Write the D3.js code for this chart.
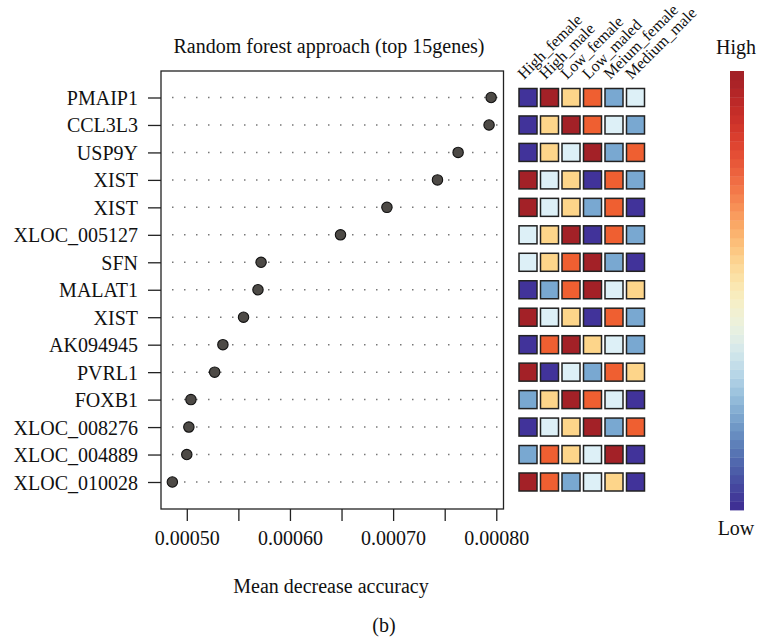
<!DOCTYPE html>
<html lang="en">
<head>
  <meta charset="UTF-8">
  <title>Random forest approach (top 15genes)</title>
  <script src="https://d3js.org/d3.v7.min.js"></script>
  <style>
    body { margin: 0; background: #fff; }
    svg { display: block; }
    text { font-family: "Liberation Serif", "Times New Roman", serif; fill: #111; }
  </style>
</head>
<body>
  <div id="chart"></div>
  <script>
    // genes, top to bottom
    const genes = ["PMAIP1", "CCL3L3", "USP9Y", "XIST", "XIST", "XLOC_005127", "SFN", "MALAT1",
                   "XIST", "AK094945", "PVRL1", "FOXB1", "XLOC_008276", "XLOC_004889", "XLOC_010028"];
    // mean decrease accuracy
    const importance = [0.000795, 0.000793, 0.000763, 0.000743, 0.000694, 0.000649, 0.000572, 0.000569,
                        0.000555, 0.000535, 0.000527, 0.000504, 0.000502, 0.000500, 0.000486];
    const groups = ["High_female", "High_male", "Low_female", "Low_maled", "Meium_female", "Medium_male"];
    // expression rank per group (1 = low, 6 = high)
    const ranks = [
      [1, 6, 4, 5, 2, 3],
      [1, 4, 6, 5, 3, 2],
      [1, 4, 3, 6, 2, 5],
      [6, 3, 4, 1, 5, 2],
      [6, 3, 4, 2, 5, 1],
      [3, 4, 6, 1, 5, 2],
      [3, 4, 5, 6, 2, 1],
      [1, 2, 5, 6, 3, 4],
      [6, 3, 4, 1, 5, 2],
      [1, 5, 6, 4, 3, 2],
      [6, 1, 3, 2, 5, 4],
      [2, 4, 6, 5, 3, 1],
      [1, 3, 4, 6, 2, 5],
      [2, 5, 4, 3, 6, 1],
      [6, 5, 2, 3, 4, 1]
    ];
    const xTicks = [0.00050, 0.00055, 0.00060, 0.00065, 0.00070, 0.00075, 0.00080];
    const xLabels = [0.00050, 0.00060, 0.00070, 0.00080];

    const width = 761, height = 641;
    const box = { left: 161, right: 503.5, top: 71, bottom: 509 };

    const svg = d3.select("#chart").append("svg")
      .attr("width", width)
      .attr("height", height);

    const x = d3.scaleLinear().domain([0.000475, 0.000807]).range([box.left, box.right]);
    const y = d3.scalePoint().domain(d3.range(genes.length)).range([97.5, 482]);

    // cell colours, low -> high
    const cellColor = d3.scaleOrdinal()
      .domain([1, 2, 3, 4, 5, 6])
      .range(["#41339a", "#79a8d1", "#ddf0f7", "#fdd58a", "#ef5f31", "#a32127"]);
    // legend ramp, low -> high
    const ramp = d3.interpolateRgbBasis(["#3f3094", "#4f74b2", "#93c1dd", "#e4f3f7", "#fdf3bb",
                                         "#fdbb6c", "#f46d43", "#d73027", "#a32127"]);

    // title
    svg.append("text")
      .attr("x", 329).attr("y", 53)
      .attr("text-anchor", "middle")
      .style("font-size", "20px")
      .text("Random forest approach (top 15genes)");

    // dotted guide lines
    svg.append("g").selectAll("line")
      .data(genes)
      .join("line")
      .attr("x1", box.left + 11).attr("x2", box.right - 4)
      .attr("y1", (d, i) => y(i)).attr("y2", (d, i) => y(i))
      .attr("stroke", "#777")
      .attr("stroke-width", 1.5)
      .attr("stroke-dasharray", "1.5 10.5");

    // box
    svg.append("rect")
      .attr("x", box.left).attr("y", box.top)
      .attr("width", box.right - box.left).attr("height", box.bottom - box.top)
      .attr("fill", "none").attr("stroke", "#222").attr("stroke-width", 1.3);

    // x axis
    const xAxis = svg.append("g")
      .attr("transform", `translate(0,${box.bottom})`)
      .call(d3.axisBottom(x)
        .tickValues(xTicks)
        .tickSize(12)
        .tickFormat(d => xLabels.some(v => Math.abs(v - d) < 1e-9) ? d3.format(".5f")(d) : ""));
    xAxis.select(".domain").remove();
    xAxis.selectAll(".tick line").attr("stroke", "#222").attr("stroke-width", 1.3);
    xAxis.selectAll(".tick text")
      .attr("y", 22)
      .style("font-size", "20px")
      .style("font-family", "Liberation Serif, serif")
      .attr("fill", "#111");

    // y axis
    const yAxis = svg.append("g")
      .attr("transform", `translate(${box.left},0)`)
      .call(d3.axisLeft(y).tickSize(13).tickFormat(i => genes[i]));
    yAxis.select(".domain").remove();
    yAxis.selectAll(".tick line").attr("stroke", "#222").attr("stroke-width", 1.3);
    yAxis.selectAll(".tick text")
      .attr("x", -23)
      .attr("dy", "0.35em")
      .style("font-size", "20px")
      .style("font-family", "Liberation Serif, serif")
      .attr("fill", "#111");

    // dots
    svg.append("g").selectAll("circle")
      .data(importance)
      .join("circle")
      .attr("cx", d => x(d))
      .attr("cy", (d, i) => y(i))
      .attr("r", 5.2)
      .attr("fill", "#4d4a46")
      .attr("stroke", "#111")
      .attr("stroke-width", 1.1);

    // x label
    svg.append("text")
      .attr("x", 331).attr("y", 593)
      .attr("text-anchor", "middle")
      .style("font-size", "20px")
      .text("Mean decrease accuracy");

    svg.append("text")
      .attr("x", 384).attr("y", 632)
      .attr("text-anchor", "middle")
      .style("font-size", "20px")
      .text("(b)");

    // heatmap
    const hx = d3.scalePoint().domain(groups).range([528, 635.5]);
    const cell = 18;

    const rows = svg.append("g").selectAll("g")
      .data(ranks)
      .join("g")
      .attr("transform", (d, i) => `translate(0,${y(i)})`);

    rows.selectAll("rect")
      .data(d => d.map((v, j) => ({ v, g: groups[j] })))
      .join("rect")
      .attr("x", d => hx(d.g) - cell / 2)
      .attr("y", -cell / 2)
      .attr("width", cell).attr("height", cell)
      .attr("fill", d => cellColor(d.v))
      .attr("stroke", "#222")
      .attr("stroke-width", 1.5);

    svg.append("g").selectAll("text")
      .data(groups)
      .join("text")
      .attr("transform", d => `translate(${hx(d) - 4},80) rotate(-45)`)
      .style("font-size", "16px")
      .text(d => d);

    // colour legend
    const nSteps = 50;
    const ly = d3.scaleLinear().domain([0, nSteps]).range([510, 71]);
    svg.append("g").selectAll("rect")
      .data(d3.range(nSteps))
      .join("rect")
      .attr("x", 730)
      .attr("y", d => ly(d + 1))
      .attr("width", 14)
      .attr("height", d => ly(d) - ly(d + 1) + 0.4)
      .attr("fill", d => ramp(d / (nSteps - 1)));

    svg.append("text")
      .attr("x", 736).attr("y", 54)
      .attr("text-anchor", "middle")
      .style("font-size", "20px")
      .text("High");
    svg.append("text")
      .attr("x", 736).attr("y", 535)
      .attr("text-anchor", "middle")
      .style("font-size", "20px")
      .text("Low");
  </script>
</body>
</html>
